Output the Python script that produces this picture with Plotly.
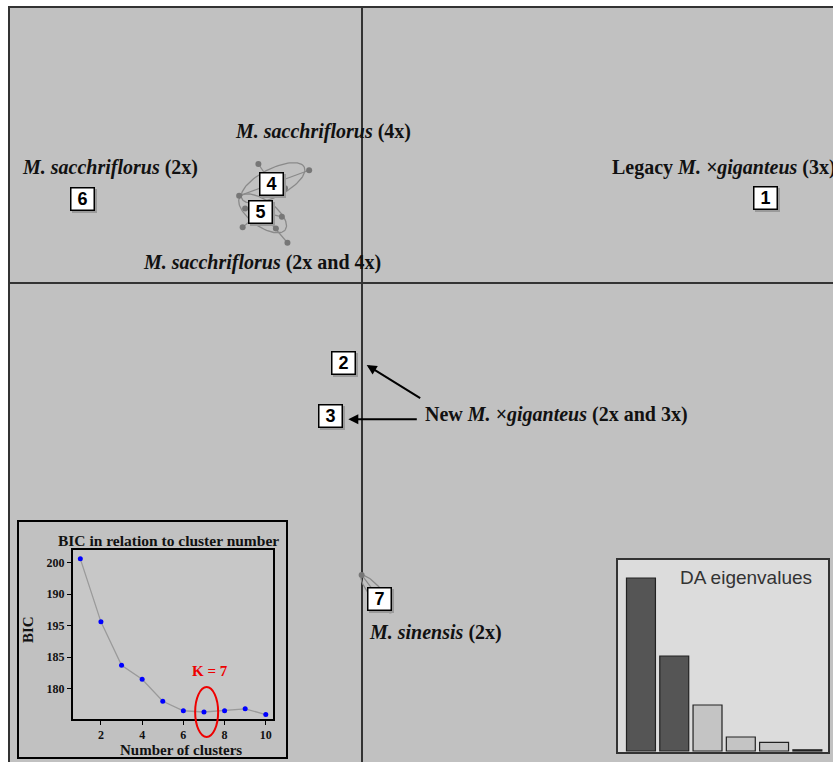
import numpy as np
import plotly.graph_objects as go

W, H = 833, 762

# ---------------- data ----------------
# BIC vs number of clusters (inset)
bic_k = [1, 2, 3, 4, 5, 6, 7, 8, 9, 10]
bic_val = [200.6, 190.6, 183.7, 181.5, 178.0, 176.5, 176.3, 176.5, 176.8, 175.9]
bic_ytick_vals = [200, 195, 190, 185, 180]
bic_ytick_text = ["200", "190", "195", "185", "180"]
bic_xticks = [2, 4, 6, 8, 10]
k_chosen = 7

# DA eigenvalues (inset)
eig_rank = [1, 2, 3, 4, 5, 6]
eig_val = [173, 95, 46, 14, 8.7, 1.2]
eig_retained = [True, True, False, False, False, False]

# cluster centroids on the two discriminant functions
cluster_ids = ["1", "2", "3", "4", "5", "6", "7"]
cluster_ld1 = [11.54, -0.53, -0.90, -2.58, -2.89, -7.98, 0.50]
cluster_ld2 = [2.42, -2.29, -3.80, 2.83, 2.04, 2.39, -9.02]

# individuals
ind_cluster = ["4", "4", "4", "4", "5", "5", "5", "5", "5", "7", "7", "1", "2", "3", "6"]
ind_ld1 = [-2.96, -1.51, -2.20, -3.51, -3.34, -3.41, -2.29, -2.46, -2.13, -0.01, 0.80, 11.54, -0.53, -0.90, -7.98]
ind_ld2 = [3.40, 3.22, 2.71, 2.49, 2.13, 1.59, 1.89, 1.56, 1.15, -8.34, -9.34, 2.42, -2.29, -3.80, 2.39]

# inertia ellipses: cluster, centre, semi-axes, angle (deg)
ell_cluster = ["4", "5", "7"]
ell_cx = [-2.54, -2.84, 0.43]
ell_cy = [2.86, 1.99, -8.89]
ell_a = [1.00, 0.80, 0.68]
ell_b = [0.40, 0.37, 0.18]
ell_ang = [27, -36, -50]

group_labels = [
    ("<b><i>M. sacchriflorus</i> (2x)</b>", 21, 167),
    ("<b><i>M. sacchriflorus</i> (4x)</b>", 234, 131),
    ("<b>Legacy <i>M. ×giganteus</i> (3x)</b>", 611, 167),
    ("<b><i>M. sacchriflorus</i> (2x and 4x)</b>", 142, 262),
    ("<b>New <i>M. ×giganteus</i> (2x and 3x)</b>", 424, 415),
    ("<b><i>M. sinensis</i> (2x)</b>", 368, 632),
]


def px(x):
    return x / W


def py(y):
    return 1 - y / H


SERIF = "Liberation Serif"
SANS = "Liberation Sans"
MAIN_BG = "#c1c1c1"

fig = go.Figure()

# ---------- main scatter ----------
cmap = dict(zip(cluster_ids, zip(cluster_ld1, cluster_ld2)))
sx, sy = [], []
for c, x, y in zip(ind_cluster, ind_ld1, ind_ld2):
    cx, cy = cmap[c]
    sx += [cx, x, None]
    sy += [cy, y, None]
fig.add_trace(go.Scatter(x=sx, y=sy, mode="lines", line=dict(color="#8a8a8a", width=1.2),
                         xaxis="x", yaxis="y", hoverinfo="skip"))

t = np.linspace(0, 2 * np.pi, 100)
for c, cx, cy, a, b, ang in zip(ell_cluster, ell_cx, ell_cy, ell_a, ell_b, ell_ang):
    th = np.deg2rad(ang)
    ex = cx + a * np.cos(t) * np.cos(th) - b * np.sin(t) * np.sin(th)
    ey = cy + a * np.cos(t) * np.sin(th) + b * np.sin(t) * np.cos(th)
    fig.add_trace(go.Scatter(x=ex, y=ey, mode="lines", line=dict(color="#8a8a8a", width=1.3),
                             xaxis="x", yaxis="y", hoverinfo="skip"))

fig.add_trace(go.Scatter(x=ind_ld1, y=ind_ld2, mode="markers",
                         marker=dict(color="#777777", size=6),
                         xaxis="x", yaxis="y"))

# ---------- BIC inset ----------
fig.add_trace(go.Scatter(x=bic_k, y=bic_val, mode="lines+markers",
                         line=dict(color="#9a9a9a", width=1.3),
                         marker=dict(color="#0000ff", size=5),
                         xaxis="x2", yaxis="y2"))

# ---------- DA eigenvalues inset ----------
fig.add_trace(go.Bar(x=eig_rank, y=eig_val,
                     marker=dict(color=["#555555" if r else "#c4c4c4" for r in eig_retained],
                                 line=dict(color="#222222", width=1.2)),
                     xaxis="x3", yaxis="y3"))

# axes geometry
S = 35.0  # px per unit on main plot
ox, oy = 362, 283
main_xr = [(10 - ox) / S, (W - ox) / S]
main_yr = [(oy - H) / S, (oy - 8) / S]

bic_xr = [0.63, 10.35]
bic_yr = [175.19, 202.0]
bic_dom_x = [px(72.7), px(273)]
bic_dom_y = [py(719), py(550)]

da_xr = [0.31, 6.62]
da_yr = [-1, 191]

fig.update_layout(
    width=W, height=H,
    margin=dict(l=0, r=0, t=0, b=0),
    paper_bgcolor="white",
    plot_bgcolor=MAIN_BG,
    showlegend=False,
    bargap=0.13,
    xaxis=dict(domain=[px(10), 1], range=main_xr, showgrid=False, zeroline=True,
               zerolinecolor="#333333", zerolinewidth=2, showticklabels=False, ticks="",
               showline=True, side="top", linecolor="#333333", linewidth=2),
    yaxis=dict(domain=[0, py(8)], range=main_yr, showgrid=False, zeroline=True,
               zerolinecolor="#333333", zerolinewidth=2, showticklabels=False, ticks="",
               showline=True, linecolor="#333333", linewidth=2, anchor="x"),
    xaxis2=dict(domain=bic_dom_x, range=bic_xr, anchor="y2", showgrid=False, zeroline=False,
                showline=True, mirror=True, linecolor="black", linewidth=1.5,
                ticks="outside", ticklen=4, tickcolor="black",
                tickvals=bic_xticks, tickfont=dict(family=SERIF, size=12, color="#111", weight="bold")),
    yaxis2=dict(domain=bic_dom_y, range=bic_yr, anchor="x2", showgrid=False, zeroline=False,
                showline=True, mirror=True, linecolor="black", linewidth=1.5,
                ticks="outside", ticklen=4, tickcolor="black",
                tickvals=bic_ytick_vals, ticktext=bic_ytick_text,
                tickfont=dict(family=SERIF, size=12, color="#111", weight="bold")),
    xaxis3=dict(domain=[px(618), px(828)], range=da_xr, anchor="y3", showgrid=False,
                zeroline=False, showline=True, mirror=True, linecolor="#333333", linewidth=1.5,
                showticklabels=False, ticks=""),
    yaxis3=dict(domain=[py(752), py(560)], range=da_yr, anchor="x3", showgrid=False,
                zeroline=False, showline=True, mirror=True, linecolor="#333333", linewidth=1.5,
                showticklabels=False, ticks=""),
)

shapes = []
# BIC inset frame
shapes.append(dict(type="rect", xref="paper", yref="paper", x0=px(18), x1=px(287), y0=py(758), y1=py(521),
                   line=dict(color="black", width=2), fillcolor="rgba(0,0,0,0)", layer="above"))
# BIC inner background (in subplot coords so it sits below the traces)
shapes.append(dict(type="rect", xref="x2", yref="y2", x0=bic_xr[0], x1=bic_xr[1],
                   y0=bic_yr[0], y1=bic_yr[1], line=dict(width=0), fillcolor="#c7c7c7", layer="between"))
# DA inset background
shapes.append(dict(type="rect", xref="x3", yref="y3", x0=da_xr[0], x1=da_xr[1], y0=da_yr[0], y1=da_yr[1],
                   line=dict(width=0), fillcolor="#dcdcdc", layer="between"))


# red ellipse around chosen K (spills below the axis box)
def bx(v):
    return bic_dom_x[0] + (v - bic_xr[0]) / (bic_xr[1] - bic_xr[0]) * (bic_dom_x[1] - bic_dom_x[0])


def by(v):
    return bic_dom_y[0] + (v - bic_yr[0]) / (bic_yr[1] - bic_yr[0]) * (bic_dom_y[1] - bic_dom_y[0])


kval = bic_val[bic_k.index(k_chosen)]
shapes.append(dict(type="circle", xref="paper", yref="paper",
                   x0=bx(k_chosen + 0.13) - px(11.5), x1=bx(k_chosen + 0.13) + px(11.5),
                   y0=by(kval) - 25 / H, y1=by(kval) + 25 / H,
                   line=dict(color="#ee0000", width=2), layer="above"))
fig.update_layout(shapes=shapes)

ann = []
# group labels
for txt, lx, ly in group_labels:
    ann.append(dict(text=txt, xref="paper", yref="paper", x=px(lx), y=py(ly), xanchor="left",
                    yanchor="middle", showarrow=False, borderpad=0,
                    font=dict(family=SERIF, size=20, color="#111111")))

# numbered boxes (shadow then box)
for cid, cx, cy in zip(cluster_ids, cluster_ld1, cluster_ld2):
    ann.append(dict(text=" ", x=cx, y=cy, xref="x", yref="y", showarrow=False, xshift=2, yshift=-2,
                    xanchor="center", yanchor="middle",
                    width=22, height=21, bgcolor="#9a9a9a", borderpad=0, borderwidth=1.5,
                    bordercolor="#9a9a9a"))
    ann.append(dict(text="<b>" + cid + "</b>", x=cx, y=cy, xref="x", yref="y", showarrow=False,
                    xanchor="center", yanchor="middle",
                    width=22, height=21, bgcolor="white", bordercolor="black", borderwidth=1.5,
                    borderpad=0, font=dict(family=SANS, size=18, color="black")))

# arrows to clusters 2 and 3
ann.append(dict(text="", xref="paper", yref="paper", x=px(366.7), y=py(365), ax=55, ay=34,
                showarrow=True, arrowhead=2, arrowsize=1, arrowwidth=2, arrowcolor="black"))
ann.append(dict(text="", xref="paper", yref="paper", x=px(348.3), y=py(419.3), ax=70, ay=0,
                showarrow=True, arrowhead=2, arrowsize=1, arrowwidth=2, arrowcolor="black"))

# BIC inset texts
ann.append(dict(text="<b>BIC in relation to cluster number</b>", xref="paper", yref="paper",
                x=px(168), y=py(540), xanchor="center", yanchor="middle", showarrow=False,
                font=dict(family=SERIF, size=15.5, color="#111")))
ann.append(dict(text="<b>Number of clusters</b>", xref="paper", yref="paper",
                x=px(181), y=py(750), xanchor="center", yanchor="middle", showarrow=False,
                font=dict(family=SERIF, size=15, color="#111")))
ann.append(dict(text="<b>BIC</b>", xref="paper", yref="paper", textangle=-90,
                x=px(28), y=py(630), xanchor="center", yanchor="middle", showarrow=False,
                font=dict(family=SERIF, size=15, color="#111")))
ann.append(dict(text="<b>K = 7</b>", xref="paper", yref="paper",
                x=px(210), y=py(671), xanchor="center", yanchor="middle", showarrow=False,
                font=dict(family=SERIF, size=15, color="#ee0000")))

# DA eigenvalues title
ann.append(dict(text="DA eigenvalues", xref="paper", yref="paper", x=px(814), y=py(577),
                xanchor="right", yanchor="middle", showarrow=False,
                font=dict(family=SANS, size=19, color="#333333")))

fig.update_layout(annotations=ann)

fig.write_html("out.html", config={"displayModeBar": False},
               post_script="document.body.style.margin='0px';document.body.style.overflow='hidden';")
